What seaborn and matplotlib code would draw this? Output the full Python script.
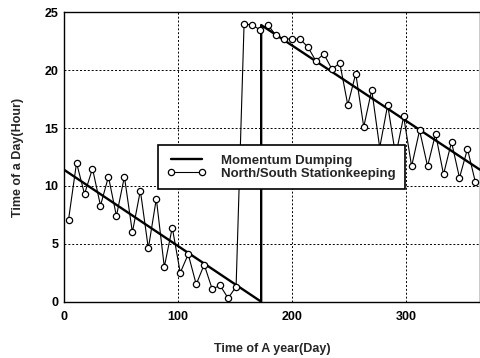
#!/usr/bin/env python3
"""Momentum dumping vs N/S stationkeeping — time of day over a year."""

from __future__ import annotations

import matplotlib

matplotlib.use("Agg")
import matplotlib.pyplot as plt
import seaborn as sns

# momentum dumping line (day, hour)
DUMP_DAYS = [0, 173, 173, 365]
DUMP_HOURS = [11.4, 0.0, 23.9, 11.4]

# north/south stationkeeping, one burn a week
NS_DAYS = [
    4, 11, 18, 25, 32, 39, 46, 53, 60, 67, 74, 81, 88,
    95, 102, 109, 116, 123, 130, 137, 144, 151, 158, 165, 172, 179,
    186, 193, 200, 207, 214, 221, 228, 235, 242, 249, 256, 263, 270,
    277, 284, 291, 298, 305, 312, 319, 326, 333, 340, 347, 354, 361,
]
NS_HOURS = [
    7.1, 12.0, 9.3, 11.5, 8.3, 10.8, 7.4, 10.8, 6.0, 9.6, 4.6, 8.9, 3.0,
    6.4, 2.5, 4.1, 1.5, 3.2, 1.1, 1.4, 0.3, 1.3, 24.0, 23.9, 23.5, 23.9,
    23.0, 22.7, 22.7, 22.7, 22.0, 20.8, 21.4, 20.1, 20.6, 17.0, 19.7, 15.1, 18.3,
    13.3, 17.0, 12.6, 16.0, 11.7, 14.8, 11.7, 14.5, 11.0, 13.8, 10.7, 13.2, 10.3,
]

X_TICKS = [0, 100, 200, 300]
Y_TICKS = [0, 5, 10, 15, 20, 25]

FONT = ["Liberation Sans", "DejaVu Sans"]


def main() -> int:
    sns.set_style("white")
    plt.rcParams["font.family"] = FONT
    plt.rcParams["font.weight"] = "bold"

    fig = plt.figure(figsize=(4.81, 3.58), dpi=100)
    ax = fig.add_axes([64 / 481, 56.3 / 358, 416 / 481, 289.4 / 358])

    sns.lineplot(x=DUMP_DAYS, y=DUMP_HOURS, ax=ax, sort=False, estimator=None,
                 color="black", linewidth=1.7, label="Momentum Dumping")
    sns.lineplot(x=NS_DAYS, y=NS_HOURS, ax=ax, sort=False, estimator=None,
                 color="black", linewidth=0.8, marker="o", markersize=4.5,
                 markerfacecolor="white", markeredgecolor="black",
                 markeredgewidth=0.9, label="North/South Stationkeeping")

    ax.set_xlim(0, 365)
    ax.set_ylim(0, 25)
    ax.set_xticks(X_TICKS)
    ax.set_yticks(Y_TICKS)
    ax.grid(True, color="black", linestyle=(0, (2, 2)), linewidth=0.7)
    for s in ax.spines.values():
        s.set_color("black")
        s.set_linewidth(1.0)

    ax.tick_params(axis="both", direction="in", length=3, color="black",
                   labelsize=9, labelcolor="black")
    ax.tick_params(axis="x", pad=7)
    ax.tick_params(axis="y", pad=4)
    for lab in ax.get_xticklabels() + ax.get_yticklabels():
        lab.set_fontweight("bold")

    ax.set_xlabel("Time of A year(Day)", fontsize=9, fontweight="bold", labelpad=14)
    ax.set_ylabel("Time of a Day(Hour)", fontsize=9, fontweight="bold", labelpad=15)

    leg = ax.legend(loc="upper left", bbox_to_anchor=(0.226, 0.541),
                    borderaxespad=0, fancybox=False, framealpha=1,
                    edgecolor="black", numpoints=2, handlelength=2.9,
                    handletextpad=1.2, borderpad=0.7, labelspacing=0.05,
                    prop={"family": FONT, "weight": "bold", "size": 9.5})
    leg.get_frame().set_linewidth(1.2)
    leg.set_zorder(5)

    fig.savefig("out.png", dpi=100)
    plt.close(fig)
    return 0


if __name__ == "__main__":
    raise SystemExit(main())
